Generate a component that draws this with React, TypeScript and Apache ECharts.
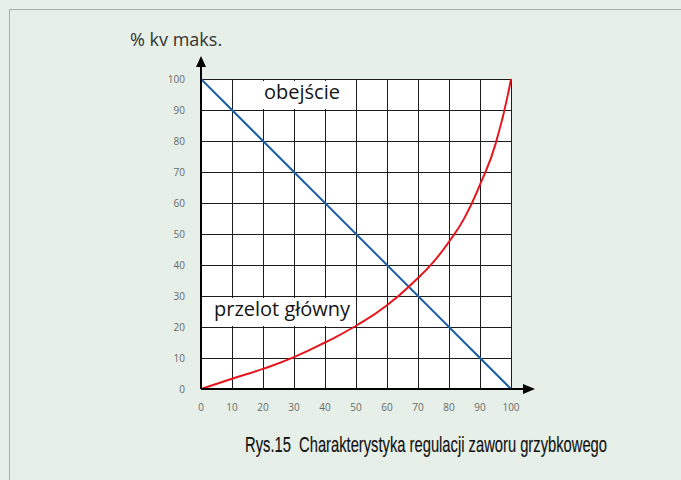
import React, { useEffect, useRef } from "react";
import * as echarts from "echarts";

const xTicks = [0, 10, 20, 30, 40, 50, 60, 70, 80, 90, 100];
const bypassX = [0, 100];
const bypassY = [100, 0];
const mainX = [0, 10, 20, 30, 40, 50, 60, 70, 75, 80, 85, 90, 95, 100];
const mainY = [0, 3.3, 6.5, 10.3, 15, 20.4, 27, 35.8, 41, 47.5, 55.2, 65.9, 79, 100];

const yAxisTitle = "% kv maks.";
const bypassLabel = "obejście";
const mainLabel = "przelot główny";
const caption = "Rys.15  Charakterystyka regulacji zaworu grzybkowego";

export default function App() {
  const ref = useRef<HTMLDivElement>(null);
  useEffect(() => {
    if (!ref.current) return;
    const chart = echarts.init(ref.current, null, { renderer: "svg" });
    const gl = 201, gt = 79, gw = 310, gh = 310;
    const gb = gt + gh;
    const font = "'Open Sans', 'Noto Sans', sans-serif";
    const capFont = "20px 'Liberation Sans', sans-serif";
    let capScale = 1;
    const cv = document.createElement("canvas").getContext("2d");
    if (cv) {
      cv.font = capFont;
      const w = cv.measureText(caption).width;
      if (w > 0) capScale = 362 / w;
    }
    chart.setOption({
      animation: false,
      backgroundColor: "#e6efe8",
      grid: {
        left: gl,
        top: gt,
        width: gw,
        height: gh,
        show: true,
        backgroundColor: "#ffffff",
        borderWidth: 0,
      },
      xAxis: {
        type: "value",
        min: xTicks[0],
        max: xTicks[xTicks.length - 1],
        interval: 10,
        axisLine: { show: false },
        axisTick: { show: false },
        axisLabel: { color: "#6a6a6a", fontSize: 10, fontFamily: font, margin: 13 },
        splitLine: { show: true, lineStyle: { color: "#1c1c1c", width: 1 } },
      },
      yAxis: {
        type: "value",
        min: 0,
        max: 100,
        interval: 10,
        axisLine: { show: false },
        axisTick: { show: false },
        axisLabel: { color: "#6a6a6a", fontSize: 10, fontFamily: font, margin: 16 },
        splitLine: { show: true, lineStyle: { color: "#1c1c1c", width: 1 } },
      },
      series: [
        {
          type: "line",
          data: bypassX.map((x, i) => [x, bypassY[i]]),
          symbol: "none",
          lineStyle: { color: "#1b5ea6", width: 2 },
          z: 3,
        },
        {
          type: "line",
          data: mainX.map((x, i) => [x, mainY[i]]),
          symbol: "none",
          smooth: 0.5,
          lineStyle: { color: "#e8141c", width: 2 },
          z: 3,
        },
      ],
      graphic: [
        {
          type: "line",
          shape: { x1: 9.5, y1: 9.5, x2: 700, y2: 9.5 },
          style: { stroke: "#a9aca9", lineWidth: 1 },
        },
        {
          type: "line",
          shape: { x1: 9.5, y1: 9.5, x2: 9.5, y2: 500 },
          style: { stroke: "#a9aca9", lineWidth: 1 },
        },
        {
          type: "line",
          shape: { x1: gl, y1: gb, x2: gl, y2: 64 },
          style: { stroke: "#000", lineWidth: 2 },
          z: 10,
        },
        {
          type: "polygon",
          shape: { points: [[196, 67], [201, 56], [206, 67]] },
          style: { fill: "#000" },
          z: 10,
        },
        {
          type: "line",
          shape: { x1: gl, y1: gb, x2: 526, y2: gb },
          style: { stroke: "#000", lineWidth: 2 },
          z: 10,
        },
        {
          type: "polygon",
          shape: { points: [[523, gb - 5], [535, gb], [523, gb + 5]] },
          style: { fill: "#000" },
          z: 10,
        },
        {
          type: "text",
          x: 130,
          y: 30,
          style: { text: yAxisTitle, fill: "#333", font: `18px ${font}` },
        },
        {
          type: "rect",
          shape: { x: 258, y: 81, width: 97, height: 28 },
          style: { fill: "#fff" },
          z: 5,
        },
        {
          type: "text",
          x: 264,
          y: 81,
          style: { text: bypassLabel, fill: "#151515", font: `20px ${font}` },
          z: 6,
        },
        {
          type: "rect",
          shape: { x: 211, y: 298, width: 144, height: 28 },
          style: { fill: "#fff" },
          z: 5,
        },
        {
          type: "text",
          x: 214,
          y: 298,
          style: { text: mainLabel, fill: "#151515", font: `20px ${font}` },
          z: 6,
        },
        {
          type: "text",
          x: 426,
          y: 444,
          scaleX: capScale,
          scaleY: 1.08,
          style: {
            text: caption,
            fill: "#111",
            font: capFont,
            stroke: "#111",
            lineWidth: 0.15,
            align: "center",
            verticalAlign: "middle",
          },
        },
      ],
    });
    return () => chart.dispose();
  }, []);
  return (
    <div
      ref={ref}
      style={{ position: "fixed", left: 0, top: 0, width: 681, height: 480 }}
    />
  );
}
